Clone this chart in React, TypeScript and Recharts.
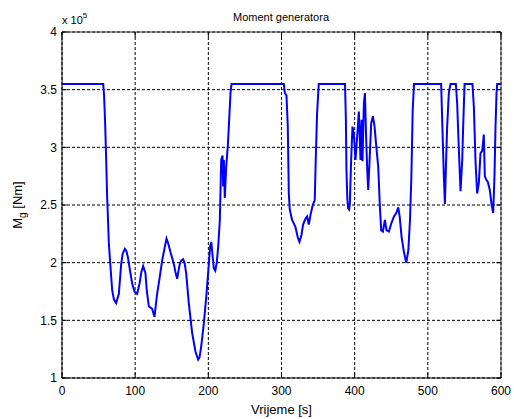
import React from "react";
import { LineChart, Line, XAxis, YAxis, CartesianGrid, ReferenceLine, Customized } from "recharts";

// Generator torque over time (values in units of 1e5 Nm)
const timeSec: number[] = [
  0, 56.3, 57.5, 59, 60.4, 61.7, 63, 64, 66.3, 68.6, 71, 74, 77.7, 80.9, 83, 85.9, 88, 90, 93, 95.9,
  99, 102.7, 106, 108.5, 110.9, 114, 116, 118.7, 121, 123.2, 126.4, 128, 130, 133, 136.9, 140, 142.8,
  145, 148.3, 152.8, 155, 157.4, 159, 161, 163, 165.6, 167.5, 169.7, 173.3, 177.9, 182.4, 186.1, 188,
  190.2, 193.8, 197.5, 200.7, 202.5, 204, 206, 207.5, 209.5, 211.5, 213.5, 215.7, 217.6, 219.4, 220.3,
  221.2, 222.5, 224.4, 226.6, 228.9, 230.3, 231.7, 303.2, 304.6, 306.8, 308.6, 310, 311.3, 314.5, 319,
  322.2, 324.5, 327.3, 329.5, 332.7, 335, 337.3, 339.5, 342.7, 345.4, 346.8, 348.6, 350.9, 386.8, 388,
  388.8, 390, 391.1, 392.4, 393.4, 395.2, 397, 398.8, 401.1, 403.4, 405.7, 408, 409.4, 410.7, 412.6,
  414, 415.8, 417.2, 418.5, 420.4, 422.6, 424.9, 427.2, 429.5, 432.2, 434.5, 436.3, 438.6, 441.3, 443.6,
  446.8, 450, 453.7, 456.9, 459.6, 461.5, 464.2, 467.4, 470.6, 473.4, 475.6, 477.5, 479.3, 481.1, 518.2,
  519.6, 521.9, 523.3, 524.6, 526.4, 528.7, 531, 538.3, 540.1, 542.4, 544.7, 547, 548.3, 550.2, 561,
  562.9, 565.1, 567.4, 569.7, 572, 574.3, 576.5, 577.9, 579.7, 582, 584.7, 587, 589.3, 591.1, 592.5,
  593.9, 594.8, 600,
];

const torque: number[] = [
  3.55, 3.55, 3.45, 3.2, 2.89, 2.57, 2.35, 2.17, 1.96, 1.76, 1.68, 1.65, 1.73, 1.99, 2.08, 2.12, 2.1, 2.05, 1.93, 1.82,
  1.75, 1.73, 1.82, 1.92, 1.97, 1.91, 1.75, 1.62, 1.61, 1.6, 1.53, 1.62, 1.73, 1.85, 2.02, 2.12, 2.21,
  2.17, 2.09, 1.99, 1.92, 1.86, 1.92, 1.99, 2.02, 2.03, 2.0, 1.91, 1.65, 1.39, 1.23, 1.16, 1.18,
  1.27, 1.47, 1.73, 1.99, 2.14, 2.18, 2.05, 1.95, 1.93, 2.0, 2.14, 2.37, 2.89, 2.93, 2.66,
  2.89, 2.56, 2.83, 3.01, 3.29, 3.47, 3.55, 3.55, 3.47, 3.45, 3.18, 2.6, 2.46, 2.37, 2.31,
  2.22, 2.18, 2.24, 2.33, 2.38, 2.4, 2.33, 2.41, 2.5, 2.54, 2.89, 3.29, 3.55, 3.55, 3.24,
  2.8, 2.55, 2.47, 2.46, 2.51, 2.89, 3.18, 3.12, 2.89, 3.09, 3.31, 2.89, 3.24, 2.88, 3.38,
  3.47, 3.06, 2.8, 2.63, 2.89, 3.21, 3.27, 3.18, 3.01, 2.83, 2.48, 2.28, 2.27, 2.37, 2.28,
  2.27, 2.34, 2.4, 2.43, 2.48, 2.4, 2.22, 2.09, 2.0, 2.11, 2.37, 2.75, 3.32, 3.55, 3.55,
  3.24, 2.75, 2.51, 2.8, 3.18, 3.47, 3.55, 3.55, 3.38, 2.98, 2.62, 2.89, 3.18, 3.55, 3.55,
  3.35, 2.89, 2.6, 2.69, 2.95, 2.97, 3.11, 2.75, 2.72, 2.7, 2.63, 2.51, 2.43, 2.75, 3.18,
  3.47, 3.55, 3.55,
];

const xTicks: number[] = [0, 100, 200, 300, 400, 500, 600];
const yTicks: number[] = [1, 1.5, 2, 2.5, 3, 3.5, 4];

const data = timeSec.map((t, i) => ({ t, m: torque[i] }));

const X_MIN = 0;
const X_MAX = 600;
const Y_MIN = 1;
const Y_MAX = 4;
// inward tick length, expressed in axis units (about 5 px on screen)
const X_TICK_LEN = 6.5;
const Y_TICK_LEN = 0.045;

const FONT = "'Liberation Sans', Arial, Helvetica, sans-serif";

const YLabel = () => (
  <text
    x={22}
    y={205}
    transform="rotate(-90 22 205)"
    textAnchor="middle"
    fontFamily={FONT}
    fontSize={13}
    fill="#000"
  >
    M<tspan fontSize={10} dy={4}>g</tspan>
    <tspan dy={-4}> [Nm]</tspan>
  </text>
);

const Annotations = () => (
  <g>
    <text x={281} y={21} textAnchor="middle" fontFamily={FONT} fontSize={11} fill="#000">
      Moment generatora
    </text>
    <text x={62} y={24} fontFamily={FONT} fontSize={11} fill="#000">
      x 10
      <tspan fontSize={8} dy={-6}>5</tspan>
    </text>
    <YLabel />
  </g>
);

export default function App() {
  return (
    <div style={{ position: "absolute", left: 0, top: 0, width: 514, height: 419, background: "#fff" }}>
      <LineChart
        width={514}
        height={419}
        data={data}
        margin={{ top: 32, right: 13, bottom: 0, left: 0 }}
      >
        <CartesianGrid stroke="#000" strokeDasharray="3 2" strokeWidth={1} />
        <XAxis
          dataKey="t"
          type="number"
          domain={[X_MIN, X_MAX]}
          ticks={xTicks}
          interval={0}
          height={41}
          tickSize={0}
          tickMargin={8}
          axisLine={{ stroke: "#000" }}
          tickLine={false}
          tick={{ fill: "#000", fontSize: 12, fontFamily: FONT }}
          label={{ value: "Vrijeme [s]", position: "insideBottom", offset: 5, fill: "#000", fontSize: 13, fontFamily: FONT }}
        />
        <YAxis
          type="number"
          domain={[Y_MIN, Y_MAX]}
          ticks={yTicks}
          interval={0}
          width={62}
          tickSize={0}
          tickMargin={5}
          axisLine={{ stroke: "#000" }}
          tickLine={false}
          tick={{ fill: "#000", fontSize: 12, fontFamily: FONT }}
        />
        <ReferenceLine y={Y_MAX} stroke="#333" strokeWidth={1} />
        <ReferenceLine x={X_MAX} stroke="#333" strokeWidth={1} />
        {xTicks.map((t) => (
          <ReferenceLine
            key={`xb${t}`}
            segment={[{ x: t, y: Y_MIN }, { x: t, y: Y_MIN + Y_TICK_LEN }]}
            stroke="#000"
          />
        ))}
        {xTicks.map((t) => (
          <ReferenceLine
            key={`xt${t}`}
            segment={[{ x: t, y: Y_MAX }, { x: t, y: Y_MAX - Y_TICK_LEN }]}
            stroke="#000"
          />
        ))}
        {yTicks.map((v) => (
          <ReferenceLine
            key={`yl${v}`}
            segment={[{ x: X_MIN, y: v }, { x: X_MIN + X_TICK_LEN, y: v }]}
            stroke="#000"
          />
        ))}
        {yTicks.map((v) => (
          <ReferenceLine
            key={`yr${v}`}
            segment={[{ x: X_MAX, y: v }, { x: X_MAX - X_TICK_LEN, y: v }]}
            stroke="#000"
          />
        ))}
        <Line
          type="linear"
          dataKey="m"
          stroke="#0000ff"
          strokeWidth={2}
          dot={false}
          isAnimationActive={false}
        />
        <Customized component={Annotations} />
      </LineChart>
    </div>
  );
}
